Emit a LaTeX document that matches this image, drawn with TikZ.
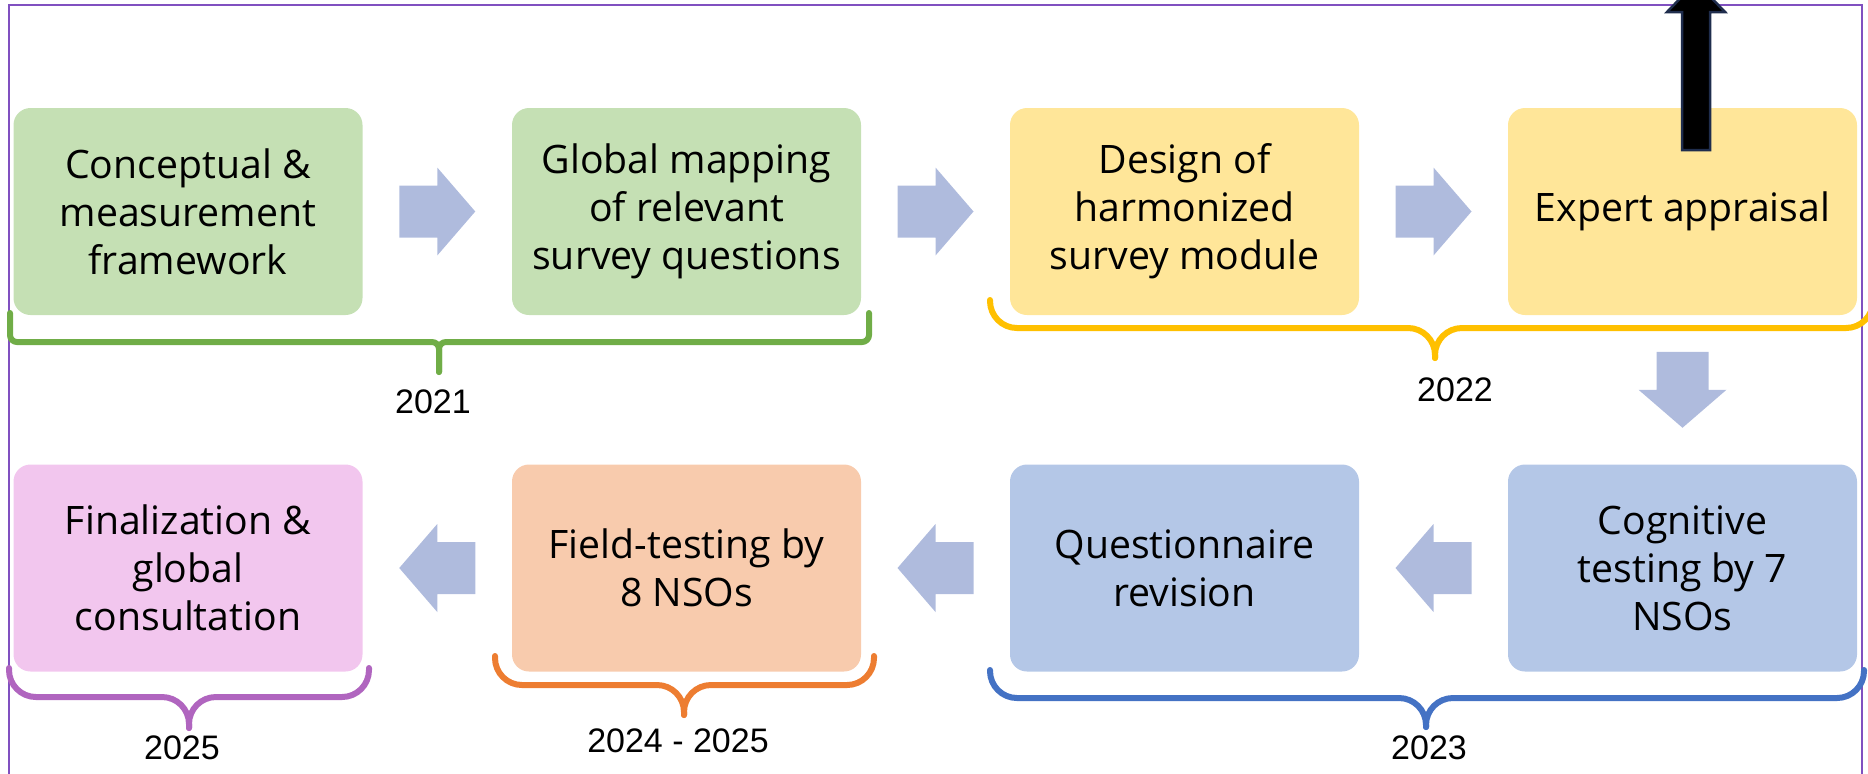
\documentclass[tikz,border=0pt]{standalone}
\usepackage{fontspec}
\setmainfont{Open Sans}
\newfontfamily\yearfont{Liberation Sans}
\usetikzlibrary{calc}

\definecolor{greenbox}{HTML}{C5E0B4}
\definecolor{yellowbox}{HTML}{FFE699}
\definecolor{bluebox}{HTML}{B4C7E7}
\definecolor{orangebox}{HTML}{F8CBAD}
\definecolor{pinkbox}{HTML}{F2C6EE}
\definecolor{greenline}{HTML}{70AD47}
\definecolor{yellowline}{HTML}{FFC000}
\definecolor{blueline}{HTML}{4472C4}
\definecolor{orangeline}{HTML}{ED7D31}
\definecolor{purpleline}{HTML}{B065BF}
\definecolor{arrowblue}{HTML}{AFBBDD}
\definecolor{framecol}{HTML}{8050C0}
\definecolor{navyline}{HTML}{1F2D4D}

\begin{document}
\begin{tikzpicture}[x=0.5pt, y=-0.5pt,
	stage/.style={rounded corners=8.5pt, minimum width=174.5pt, minimum height=103.5pt, inner sep=0pt, align=center, font=\fontsize{19.6}{24}\selectfont},
	year/.style={font=\yearfont\fontsize{17}{20}\selectfont},
	flow/.style={fill=arrowblue},
	brace/.style={line width=3pt, line cap=round, rounded corners=#1}]

	\useasboundingbox (0,0) rectangle (1868,773);
	\clip (0,0) rectangle (1868,773);

	\draw[framecol, line width=1pt] (9,5) rectangle (1862,800);

	% stages
	\node[stage, fill=greenbox] (s1) at (188,211.5) {Conceptual \&\\measurement\\framework};
	\node[stage, fill=greenbox] (s2) at (686.5,211.5) {Global mapping\\of relevant\\survey questions};
	\node[stage, fill=yellowbox] (s3) at (1184.5,211.5) {Design of\\harmonized\\survey module};
	\node[stage, fill=yellowbox] (s4) at (1682.5,211.5) {Expert appraisal};
	\node[stage, fill=bluebox] (s5) at (1682.5,568) {Cognitive\\testing by 7\\NSOs};
	\node[stage, fill=bluebox] (s6) at (1184.5,568) {Questionnaire\\revision};
	\node[stage, fill=orangebox] (s7) at (686.5,568) {Field-testing by\\8 NSOs};
	\node[stage, fill=pinkbox] (s8) at (188,568) {Finalization \&\\global\\consultation};

	% block arrows
	\foreach \a/\b in {s1/s2, s2/s3, s3/s4}
	\fill[flow] ($(\a.east)!0.5!(\b.west)$) ++(-38,-26) -- ++(38,0) -- ++(0,-18) -- ++(38,44) -- ++(-38,44) -- ++(0,-18) -- ++(-38,0) -- cycle;
	\foreach \a/\b in {s5/s6, s6/s7, s7/s8}
	\fill[flow] ($(\a.west)!0.5!(\b.east)$) ++(38,-26) -- ++(-38,0) -- ++(0,-18) -- ++(-38,44) -- ++(38,44) -- ++(0,-18) -- ++(38,0) -- cycle;
	\fill[flow] ($(s4.south)!0.5!(s5.north)$) ++(-26,-38) -- ++(52,0) -- ++(0,38) -- ++(18,0) -- ++(-44,38) -- ++(-44,-38) -- ++(18,0) -- cycle;

	\filldraw[fill=black, draw=navyline, line width=1.25pt] (1682,150) -- (1682,12) -- (1667,12) -- (1696,-18) -- (1725,12) -- (1710,12) -- (1710,150) -- cycle;

	% braces (radius in pt)
	\foreach \xa/\xt/\xb/\ya/\yl/\yt/\r/\c in {10/439/869/313/342/372/3.5/greenline, 990/1435/1873/300/328/358/13.5/yellowline, 990/1426/1864/670/698/727/13.5/blueline, 495/684/874/656/685/715/13.5/orangeline, 9/189/369/668/697/728/13.5/purpleline}
	{
		\draw[brace=\r, \c] (\xa,\ya) -- (\xa,\yl) -- (\xt,\yl) -- (\xt,\yt);
		\draw[brace=\r, \c] (\xt,\yt) -- (\xt,\yl) -- (\xb,\yl) -- (\xb,\ya);
	}

	\node[year] (y21) at (433,402) {2021};
	\node[year] (y22) at (1455,390) {2022};
	\node[year] (y23) at (1429,748) {2023};
	\node[year] (y2425) at (678,741) {2024 - 2025};
	\node[year] (y25) at (182,748) {2025};
\end{tikzpicture}
\end{document}
